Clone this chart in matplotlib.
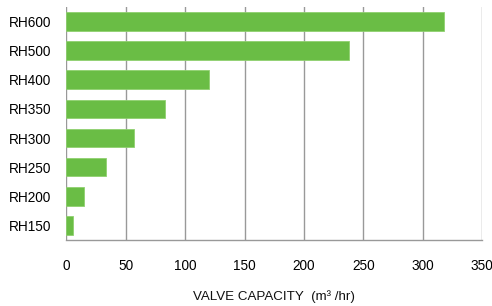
import matplotlib
matplotlib.use('Agg')
import matplotlib.pyplot as plt

# valve sizes and capacities (m3/hr), bottom to top
models = ['RH150', 'RH200', 'RH250', 'RH300', 'RH350', 'RH400', 'RH500', 'RH600']
capacity = [5.5, 14.5, 33, 56.5, 83, 120, 238, 318]
xticks = [0, 50, 100, 150, 200, 250, 300, 350]

plt.rcParams['font.family'] = ['Liberation Sans', 'DejaVu Sans']

fig = plt.figure(figsize=(4.92, 3.06), dpi=100)
ax = fig.add_axes([0.135, 0.216, 0.845, 0.761])

ax.barh(models, capacity, height=0.64, color='#6abd45', edgecolor='#8fd06f',
        linewidth=0.6, zorder=3)

ax.set_xlim(0, 350)
ax.set_ylim(-0.5, 7.5)
ax.set_xticks(xticks)
ax.grid(axis='x', color='#999999', linewidth=1, zorder=0)
ax.tick_params(axis='both', length=0, labelsize=9.8, colors='black')
ax.tick_params(axis='x', pad=14)
ax.tick_params(axis='y', pad=11)

for s in ['top', 'right', 'left']:
    ax.spines[s].set_visible(False)
ax.spines['bottom'].set_color('#999999')
ax.spines['bottom'].set_linewidth(1)

ax.set_xlabel('VALVE CAPACITY  (m³ /hr)', fontsize=9.6, color='#111111', labelpad=12)

fig.savefig('out.png', dpi=100)
